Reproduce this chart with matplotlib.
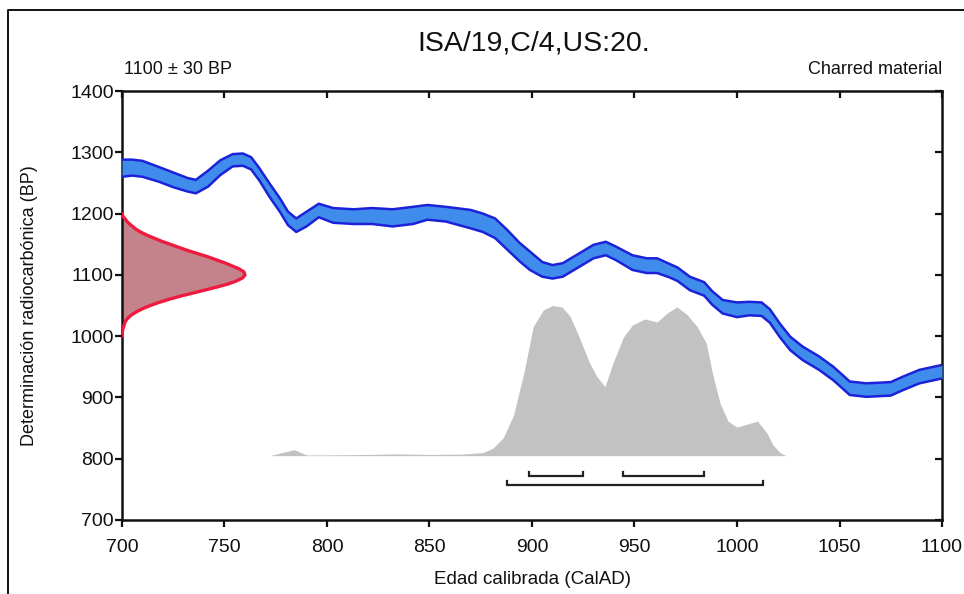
import matplotlib
matplotlib.use("Agg")
import matplotlib.pyplot as plt
from matplotlib.lines import Line2D
import numpy as np

plt.rcParams['font.family'] = ['Liberation Sans', 'DejaVu Sans']

# ---- data ----
title = "ISA/19,C/4,US:20."
date_label = "1100 \u00b1 30 BP"
material_label = "Charred material"
xlabel = "Edad calibrada (CalAD)"
ylabel = "Determinaci\u00f3n radiocarb\u00f3nica (BP)"

# calibration curve (centre and half-width, BP)
curve_years = [700, 705, 710, 718, 725, 732, 736, 742, 748, 754, 759, 763, 767, 772, 777,
               781, 785, 790, 796, 803, 813, 822, 832, 842, 849, 858, 870, 876, 882, 888,
               894, 899, 905, 910, 915, 923, 930, 936, 941, 949, 956, 961, 967, 971, 977,
               984, 988, 993, 1000, 1006, 1012, 1016, 1021, 1026, 1032, 1040, 1047, 1055, 1063, 1075,
               1081, 1089, 1100]
curve_bp = [1274, 1275, 1273, 1264, 1255, 1247, 1244, 1257, 1275, 1287, 1288, 1282, 1264, 1238, 1214,
            1192, 1181, 1191, 1205, 1197, 1195, 1196, 1193, 1197, 1202, 1199, 1191, 1185, 1176, 1157,
            1137, 1123, 1109, 1105, 1108, 1124, 1138, 1143, 1135, 1120, 1115, 1115, 1107, 1101, 1086,
            1077, 1062, 1048, 1043, 1045, 1044, 1033, 1009, 988, 972, 956, 939, 915, 912, 914,
            923, 934, 942]
curve_err = [14, 13, 13, 12, 12, 11, 11, 13, 12, 10, 10, 10, 10, 11, 11,
             11, 11, 12, 11, 12, 12, 13, 14, 14, 12, 12, 15, 15, 16, 16,
             15, 15, 12, 11, 11, 11, 11, 11, 11, 12, 12, 12, 11, 11, 11,
             11, 11, 11, 12, 11, 11, 11, 11, 11, 11, 11, 11, 11, 11, 11,
             11, 11, 11]

# measured radiocarbon date profile (relative)
date_bp = [1200, 1195, 1190, 1185, 1180, 1175, 1170, 1165, 1160, 1155, 1150, 1145, 1140, 1135,
           1130, 1125, 1120, 1115, 1110, 1105, 1100, 1095, 1090, 1085, 1080, 1075, 1070, 1065,
           1060, 1055, 1050, 1045, 1040, 1035, 1030, 1025, 1020, 1010, 1000]
date_prob = [0.0, 0.01, 0.03, 0.05, 0.08, 0.11, 0.15, 0.2, 0.26, 0.32, 0.39, 0.46, 0.53, 0.61,
             0.69, 0.76, 0.83, 0.89, 0.95, 0.99, 1.0, 0.98, 0.93, 0.86, 0.77, 0.67, 0.57, 0.47,
             0.38, 0.3, 0.23, 0.17, 0.12, 0.08, 0.05, 0.03, 0.02, 0.005, 0.0]

# calibrated probability distribution (relative)
cal_years = [772, 778, 784, 790, 800, 820, 835, 850, 865, 876, 881, 886, 891, 896, 900.6, 905.5, 910,
             914.6, 918.5, 923, 928, 931.5, 935.6, 939.6, 944.6, 949, 955, 961, 966, 970.7, 975.6,
             980.5, 985, 988, 991.7, 995.6, 1000, 1005, 1010, 1014.6, 1017.6, 1021, 1024]
cal_prob = [0.0, 0.02, 0.04, 0.005, 0.005, 0.008, 0.012, 0.008, 0.01, 0.02, 0.05, 0.12, 0.27, 0.55, 0.86,
            0.97, 1.0, 0.99, 0.93, 0.79, 0.62, 0.53, 0.46, 0.62, 0.79, 0.87, 0.91, 0.89, 0.95, 0.99,
            0.94, 0.86, 0.75, 0.55, 0.35, 0.23, 0.19, 0.21, 0.23, 0.15, 0.07, 0.02, 0.0]

# highest posterior density ranges
range_68 = [(898.7, 924.7), (944.5, 983.9)]
range_95 = [(887.6, 1012.8)]

xticks = [700, 750, 800, 850, 900, 950, 1000, 1050, 1100]
yticks = [700, 800, 900, 1000, 1100, 1200, 1300, 1400]

# ---- layout constants ----
XMIN, XMAX, YMIN, YMAX = 700, 1100, 700, 1400
DATE_WIDTH = 60.0      # x extent of the date profile (years)
CAL_BASE = 805.0       # baseline of calibrated distribution (BP units)
CAL_HEIGHT = 245.0     # height of its maximum (BP units)
Y68, Y95, TICKH = 771, 757, 7
INK = '#111111'

fig = plt.figure(figsize=(9.64, 5.94), dpi=100)
ax = fig.add_axes([122/964, 1-520/594, 820/964, 429/594])
ax.set_xlim(XMIN, XMAX)
ax.set_ylim(YMIN, YMAX)

# calibrated distribution
cx = np.array(cal_years)
cp = np.array(cal_prob)
ax.fill_between(cx, CAL_BASE, CAL_BASE + cp * CAL_HEIGHT, color='#c2c2c2', lw=0, zorder=1)

# calibration curve band
cyr = np.array(curve_years)
cb = np.array(curve_bp)
ce = np.array(curve_err)
ax.fill_between(cyr, cb - ce, cb + ce, color='#3f8cec', lw=0, zorder=3)
for edge in (cb + ce, cb - ce):
    ax.plot(cyr, edge, color='#1c22d8', lw=1.8, zorder=4,
            solid_joinstyle='round', solid_capstyle='butt')

# radiocarbon date profile
dbp = np.array(date_bp)
dpr = np.array(date_prob)
ax.fill_betweenx(dbp, XMIN, XMIN + dpr * DATE_WIDTH, color='#c4838b', lw=0, zorder=2)
ax.plot(XMIN + dpr * DATE_WIDTH, dbp, color='#ee1b3e', lw=2.4, zorder=5,
        solid_capstyle='round', solid_joinstyle='round')

# range brackets
def bracket(x0, x1, y):
    ax.plot([x0, x0, x1, x1], [y + TICKH, y, y, y + TICKH], color='#222222', lw=1.6,
            zorder=6, solid_joinstyle='miter', clip_on=False)

for a, b in range_68:
    bracket(a, b, Y68)
for a, b in range_95:
    bracket(a, b, Y95)

# axes styling
for s in ax.spines.values():
    s.set_linewidth(1.8)
    s.set_color(INK)
ax.set_xticks(xticks)
ax.set_yticks(yticks)
ax.tick_params(axis='both', which='major', direction='out', length=5, width=1.6,
               labelsize=14, colors=INK)
ax.tick_params(axis='x', pad=9)
ax.tick_params(axis='y', pad=1)

axt = ax.twiny()
axt.set_xlim(XMIN, XMAX)
axt.set_xticks(xticks)
axt.tick_params(axis='x', direction='in', length=5, width=1.6, labeltop=False, colors=INK)
axr = ax.twinx()
axr.set_ylim(YMIN, YMAX)
axr.set_yticks(yticks)
axr.tick_params(axis='y', direction='in', length=5, width=1.6, labelright=False, colors=INK)
for a in (axt, axr):
    for s in a.spines.values():
        s.set_visible(False)

ax.set_xlabel(xlabel, fontsize=13.5, color=INK)
ax.set_ylabel(ylabel, fontsize=13, color=INK)
ax.xaxis.set_label_coords(0.5, (520 - 579) / 429)
ax.xaxis.label.set_va('center')
ax.yaxis.set_label_coords((30 - 122) / 820, 0.5)
ax.yaxis.label.set_va('center')

fig.text(534/964, 1-43/594, title, ha='center', va='center', fontsize=20.5, color=INK)
fig.text(124/964, 1-70/594, date_label, ha='left', va='center', fontsize=13, color=INK)
fig.text(942/964, 1-70/594, material_label, ha='right', va='center', fontsize=13, color=INK)

# outer frame (top and left edges)
fig.add_artist(Line2D([8/964, 8/964, 1.0], [0.0, 1-10/594, 1-10/594], transform=fig.transFigure,
                      color=INK, lw=1.4))

fig.savefig('out.png', dpi=100)
